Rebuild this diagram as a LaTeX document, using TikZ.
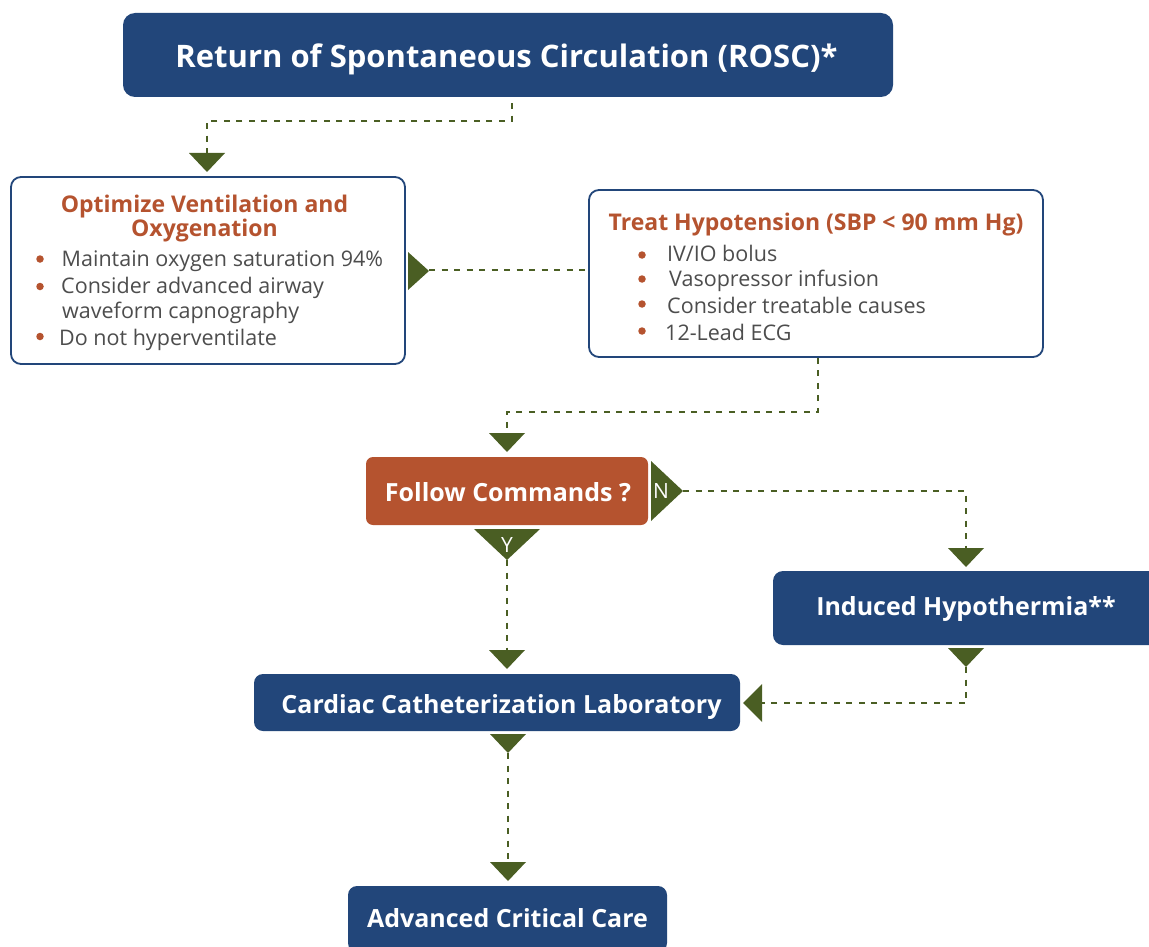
\documentclass[tikz,border=0pt]{standalone}
\usepackage{fontspec}
\setmainfont{Open Sans}
\definecolor{rosblue}{HTML}{22467A}
\definecolor{rosorange}{HTML}{B5532F}
\definecolor{rosgreen}{HTML}{4A5E23}
\definecolor{rosgray}{HTML}{4D4D4D}
\tikzset{
  bluebox/.style={fill=rosblue, rounded corners=12pt, inner sep=0pt},
  boxtext/.style={text=white, inner sep=0pt, anchor=base, font=\bfseries\fontsize{25}{28}\selectfont},
  outlinebox/.style={draw=rosblue, line width=1.8pt, fill=white, rounded corners=10pt, inner sep=0pt},
  link/.style={draw=rosgreen, line width=2.3pt, dash pattern=on 6pt off 6.5pt},
  head/.style={text=rosorange, inner sep=0pt, anchor=base, font=\bfseries\fontsize{23}{24}\selectfont},
  item/.style={text=rosgray, anchor=base west, inner sep=0pt, font=\fontsize{21.5}{24}\selectfont},
  dot/.style={fill=rosorange, circle, inner sep=0pt, minimum size=7.5pt},
  lbl/.style={text=white, inner sep=0pt, anchor=base, font=\fontsize{21}{22}\selectfont},
  tridown/.pic={\fill[rosgreen] (-18,0) -- (18,0) -- (0,19) -- cycle;},
  triright/.pic={\fill[rosgreen] (0,-19) -- (0,19) -- (21,0) -- cycle;},
  trileft/.pic={\fill[rosgreen] (0,-19) -- (0,19) -- (-19,0) -- cycle;},
}
\begin{document}
\begin{tikzpicture}[x=1pt,y=-1pt]
\useasboundingbox (0,0) rectangle (1149,947);
\clip (0,0) rectangle (1149,947);

% ROSC
\node[bluebox, minimum width=770pt, minimum height=84pt] (rosc) at (508,55) {};
\node[boxtext, font=\bfseries\fontsize{31}{36}\selectfont] (roscT) at (506.5,68) {Return of Spontaneous Circulation (ROSC)*};

% Optimize box
\node[outlinebox, minimum width=394pt, minimum height=187pt] (opt) at (208,270.5) {};
\node[head] (optT1) at (204.5,212.5) {Optimize Ventilation and};
\node[head] (optT2) at (204.5,236) {Oxygenation};
\node[dot] (od1) at (40,259) {}; \node[item] (oi1) at (61.5,266) {Maintain oxygen saturation 94\%};
\node[dot] (od2) at (40,286.5) {}; \node[item] (oi2) at (61,293) {Consider advanced airway};
\node[item] (oi3) at (62,318.5) {waveform capnography};
\node[dot] (od4) at (40,336.5) {}; \node[item] (oi4) at (59,345.5) {Do not hyperventilate};

% Treat box
\node[outlinebox, minimum width=454pt, minimum height=167pt] (treat) at (816,273.5) {};
\node[head] (treatT) at (816,230) {Treat Hypotension (SBP < 90 mm Hg)};
\node[dot] (td1) at (642,255) {}; \node[item] (ti1) at (667,261.5) {IV/IO bolus};
\node[dot] (td2) at (642,279) {}; \node[item] (ti2) at (669,286.5) {Vasopressor infusion};
\node[dot] (td3) at (642,304) {}; \node[item] (ti3) at (667,313) {Consider treatable causes};
\node[dot] (td4) at (642,331) {}; \node[item] (ti4) at (665,340) {12-Lead ECG};

% Follow commands
\node[bluebox, fill=rosorange, rounded corners=7pt, minimum width=282pt, minimum height=68pt] (follow) at (507,491) {};
\node[boxtext] (followT) at (508,501) {Follow Commands ?};

% Induced hypothermia
\node[bluebox, rounded corners=10pt, minimum width=386pt, minimum height=74pt] (hypo) at (966,608) {};
\node[boxtext] (hypoT) at (966,615) {Induced Hypothermia**};

% Cath lab
\node[bluebox, rounded corners=9pt, minimum width=486pt, minimum height=57pt] (cath) at (497,702.5) {};
\node[boxtext] (cathT) at (501.5,713) {Cardiac Catheterization Laboratory};

% Advanced critical care
\node[bluebox, rounded corners=9pt, minimum width=319pt, minimum height=66pt] (adv) at (507.5,919) {};
\node[boxtext] (advT) at (507.5,927.5) {Advanced Critical Care};

% connector coordinates
\coordinate (a1) at (207,153);
\coordinate (a2) at (408,271);
\coordinate (a3) at (507,433);
\coordinate (nT) at (651,491);
\coordinate (yT) at (507,529);
\coordinate (a4) at (966,548);
\coordinate (a5) at (507,650);
\coordinate (a6) at (966,648);
\coordinate (a7) at (762,703);
\coordinate (a8) at (508,734);
\coordinate (a9) at (508,862);

% connectors
\draw[link] ([xshift=4pt,yshift=-6pt]rosc.south) -- (512,121) -| (a1);
\draw[link] (429,270) -- (treat.west |- 0,270);
\draw[link] (treat.south -| 818,0) -- (818,412) -| (a3);
\draw[link] (683,491) -| (a4);
\draw[link] (507,560) -- (a5);
\draw[link] (966,667) |- (a7);
\draw[link] (508,753) -- (a9);

% triangles
\pic at (a1) {tridown};
\pic at (a2) {triright};
\pic at (a3) {tridown};
\pic at (a4) {tridown};
\pic at (a5) {tridown};
\pic at (a6) {tridown};
\pic at (a7) {trileft};
\pic at (a8) {tridown};
\pic at (a9) {tridown};
\fill[rosgreen] (nT) ++(0,-30) -- ++(0,60) -- ++(32,-30) -- cycle;
\fill[rosgreen] (yT) ++(-33,0) -- ++(66,0) -- ++(-33,31) -- cycle;
\node[lbl] (nlab) at (661,498) {N};
\node[lbl] (ylab) at (507,552) {Y};
\end{tikzpicture}
\end{document}
